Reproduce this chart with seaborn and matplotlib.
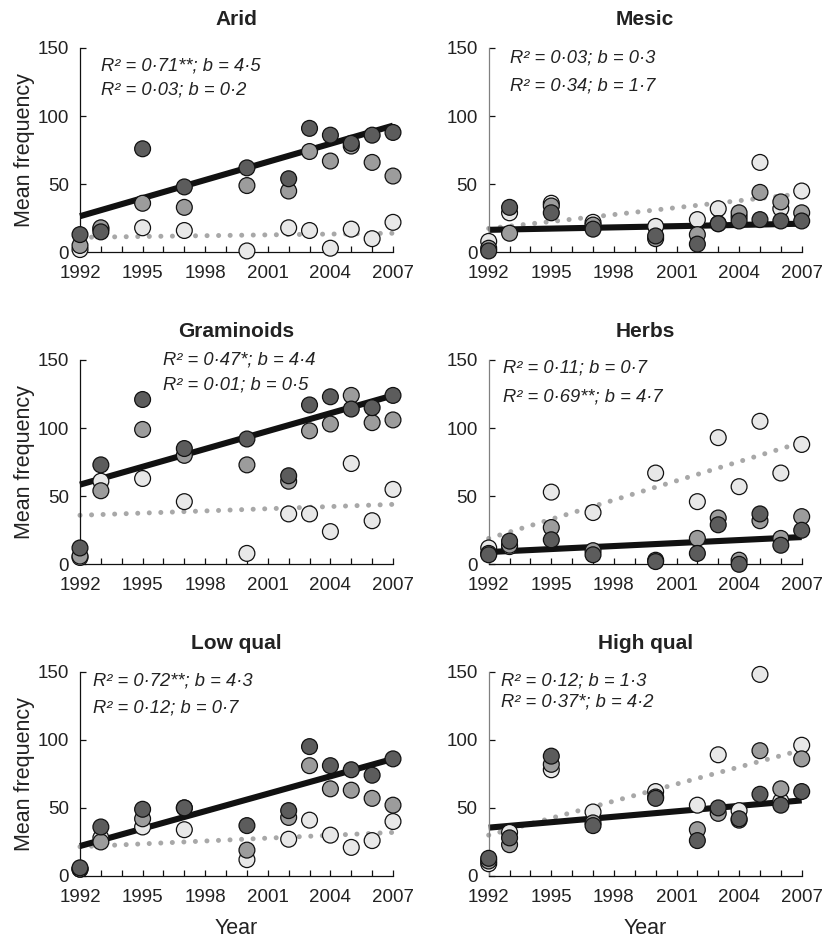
import matplotlib
matplotlib.use("Agg")
import matplotlib.pyplot as plt
import seaborn as sns
import pandas as pd

# ---------------- data ----------------
years = [1992, 1993, 1995, 1997, 2000, 2002, 2003, 2004, 2005, 2006, 2007]
panel_titles = ["Arid", "Mesic", "Graminoids", "Herbs", "Low qual", "High qual"]

arid_dark = [13, 15, 76, 48, 62, 54, 91, 86, 80, 86, 88]
arid_mid = [5, 18, 36, 33, 49, 45, 74, 67, 78, 66, 56]
arid_light = [2, 17, 18, 16, 1, 18, 16, 3, 17, 10, 22]

mesic_dark = [1, 33, 29, 17, 12, 6, 21, 23, 24, 23, 23]
mesic_mid = [3, 14, 34, 20, 10, 13, 21, 29, 44, 37, 29]
mesic_light = [8, 29, 36, 22, 19, 24, 32, 26, 66, 32, 45]

gram_dark = [12, 73, 121, 85, 92, 65, 117, 123, 114, 115, 124]
gram_mid = [6, 54, 99, 80, 73, 61, 98, 103, 124, 104, 106]
gram_light = [5, 61, 63, 46, 8, 37, 37, 24, 74, 32, 55]

herbs_dark = [7, 17, 18, 7, 2, 8, 29, 0, 37, 14, 25]
herbs_mid = [8, 14, 27, 10, 3, 19, 34, 3, 32, 19, 35]
herbs_light = [12, 13, 53, 38, 67, 46, 93, 57, 105, 67, 88]

lowq_dark = [6, 36, 49, 50, 37, 48, 95, 81, 78, 74, 86]
lowq_mid = [5, 25, 42, 50, 19, 43, 81, 64, 63, 57, 52]
lowq_light = [5, 28, 36, 34, 12, 27, 41, 30, 21, 26, 40]

highq_dark = [13, 28, 88, 37, 57, 26, 50, 42, 60, 52, 62]
highq_mid = [11, 23, 82, 39, 58, 34, 46, 41, 92, 64, 86]
highq_light = [9, 32, 78, 47, 62, 52, 89, 48, 148, 55, 96]

# regression line values at 1992 and 2007
line_years = [1992, 2007]
solid_start = [26.5, 16.5, 58.5, 9.0, 22.0, 35.5]
solid_end = [93.0, 21.0, 124.0, 20.0, 86.0, 55.5]
dotted_start = [11.0, 17.5, 36.0, 19.0, 21.5, 30.0]
dotted_end = [14.0, 43.0, 44.0, 89.5, 32.0, 92.5]

stat_solid = ["R² = 0·71**; b = 4·5", "R² = 0·03; b = 0·3", "R² = 0·47*; b = 4·4",
              "R² = 0·11; b = 0·7", "R² = 0·72**; b = 4·3", "R² = 0·12; b = 1·3"]
stat_dotted = ["R² = 0·03; b = 0·2", "R² = 0·34; b = 1·7", "R² = 0·01; b = 0·5",
               "R² = 0·69**; b = 4·7", "R² = 0·12; b = 0·7", "R² = 0·37*; b = 4·2"]
# annotation anchor (year, value) for the two text lines
stat_x = [1993.0, 1993.0, 1996.0, 1992.7, 1992.6, 1992.6]
stat_y1 = [137, 143, 150, 144, 143, 143]
stat_y2 = [119, 122, 132, 123, 123.5, 128]

xticks = [1992, 1995, 1998, 2001, 2004, 2007]
yticks = [0, 50, 100, 150]

series = [
    (arid_dark, arid_mid, arid_light),
    (mesic_dark, mesic_mid, mesic_light),
    (gram_dark, gram_mid, gram_light),
    (herbs_dark, herbs_mid, herbs_light),
    (lowq_dark, lowq_mid, lowq_light),
    (highq_dark, highq_mid, highq_light),
]

# ---------------- style ----------------
sns.set_style("ticks")
plt.rcParams["font.family"] = ["Liberation Sans", "DejaVu Sans"]

palette = {"light": "#e8e8e8", "mid": "#9c9c9c", "dark": "#5c5c5c"}
hue_order = ["light", "mid", "dark"]

W, H = 832, 939
fig = plt.figure(figsize=(W / 100, H / 100), dpi=100)

col_left = [80, 488.7]
col_width = 313
row_top = [48, 360, 671.7]
row_height = 204.3

for i, title in enumerate(panel_titles):
    r, c = divmod(i, 2)
    left = col_left[c] / W
    bottom = 1 - (row_top[r] + row_height) / H
    ax = fig.add_axes([left, bottom, col_width / W, row_height / H])

    dark, mid, light = series[i]
    df = pd.DataFrame({
        "year": years * 3,
        "value": light + mid + dark,
        "group": ["light"] * len(years) + ["mid"] * len(years) + ["dark"] * len(years),
    })

    # regression lines
    ax.plot(line_years, [dotted_start[i], dotted_end[i]], color="#a8a8a8",
            lw=3.6, linestyle=(0, (0.01, 2.3)), dash_capstyle="round", zorder=2,
            clip_on=False)
    ax.plot(line_years, [solid_start[i], solid_end[i]], color="#111111",
            lw=4.4, solid_capstyle="butt", zorder=2.5, clip_on=False)

    sns.scatterplot(data=df, x="year", y="value", hue="group", hue_order=hue_order,
                    palette=palette, s=130, edgecolor="#111111", linewidth=0.9,
                    legend=False, ax=ax, clip_on=False, zorder=3)

    ax.set_xlim(1992, 2007)
    ax.set_ylim(0, 150)
    ax.set_xticks(xticks)
    ax.set_xticks(list(range(1992, 2008)), minor=True)
    ax.set_yticks(yticks)
    ax.tick_params(axis="x", which="both", direction="in", length=4.5, width=0.9,
                   labelsize=13.5, pad=9, color="#111111")
    ax.tick_params(axis="y", which="both", direction="in", length=4, width=0.9,
                   labelsize=13.5, pad=8, color="#111111")
    for lab in ax.get_xticklabels() + ax.get_yticklabels():
        lab.set_color("#222222")
    sns.despine(ax=ax)
    ax.spines["bottom"].set_linewidth(0.9)
    ax.spines["left"].set_linewidth(0.9)
    ax.spines["bottom"].set_color("#111111")
    ax.spines["left"].set_color("#111111" if c == 0 else "#808080")

    ax.text(0.5, 1 + 23 / row_height, title, transform=ax.transAxes, ha="center",
            va="baseline", fontsize=15, fontweight="bold", color="#222222")

    ax.text(stat_x[i], stat_y1[i], stat_solid[i], fontsize=13.2, style="italic",
            ha="left", va="center", color="#222222")
    ax.text(stat_x[i], stat_y2[i], stat_dotted[i], fontsize=13.2, style="italic",
            ha="left", va="center", color="#222222")

    if c == 0:
        ax.set_ylabel("Mean frequency", fontsize=15.5, color="#222222")
        ax.yaxis.set_label_coords(-55 / col_width, 0.5)
        ax.yaxis.label.set_va("center")
    else:
        ax.set_ylabel("")
    if r == 2:
        ax.set_xlabel("Year", fontsize=15.5, color="#222222")
        ax.xaxis.set_label_coords(0.5, -53 / row_height)
        ax.xaxis.label.set_va("center")
    else:
        ax.set_xlabel("")

fig.savefig("out.png", dpi=100)
